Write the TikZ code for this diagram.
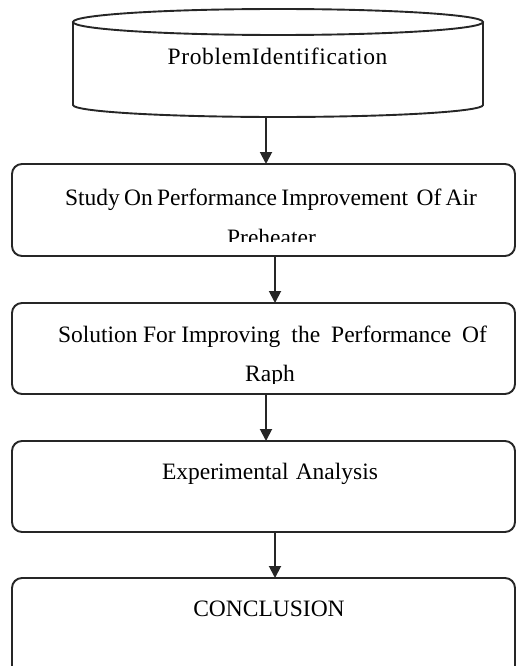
\documentclass[tikz,border=0pt]{standalone}
\usepackage{fontspec}
\setmainfont{Liberation Serif}
\usetikzlibrary{arrows.meta}
\begin{document}
\begin{tikzpicture}[x=1pt,y=-1pt,
  line/.style={line width=1.9pt, draw=black!85},
  procbox/.style={line, rounded corners=10pt, minimum width=503pt, inner sep=0pt, outer sep=0pt, anchor=north west},
  flowarrow/.style={line, -{Triangle[length=12pt,width=12pt]}},
  lbl/.style={anchor=base, inner sep=0pt, font=\fontsize{23.5pt}{28pt}\selectfont}]
\useasboundingbox (0,0) rectangle (517,666);

% cylinder (problem identification)
\node[minimum width=410pt, minimum height=95pt, inner sep=0pt, outer sep=0pt, anchor=north west] (cyl) at (73,22) {};
\draw[line] (cyl.north) ellipse [x radius=205pt, y radius=13pt];
\draw[line] (cyl.north west) -- ++(0,83) arc[start angle=180, end angle=360, x radius=205pt, y radius=12pt] -- (cyl.north east);

% process boxes
\node[procbox, minimum height=92pt] (b1) at (12,164) {};
\node[procbox, minimum height=91pt] (b2) at (12,303) {};
\node[procbox, minimum height=91pt] (b3) at (12,441) {};
\node[procbox, minimum height=100pt] (b4) at (12,578) {};

% arrows
\coordinate (axl) at (266,0);
\coordinate (axr) at (275,0);
\draw[flowarrow] (cyl.south -| axl) -- (b1.north -| axl);
\draw[flowarrow] (b1.south -| axr) -- (b2.north -| axr);
\draw[flowarrow] (b2.south -| axl) -- (b3.north -| axl);
\draw[flowarrow] (b3.south -| axr) -- (b4.north -| axr);

% texts
\node[lbl] (tp) at (277.5,65) {\addfontfeature{LetterSpace=2.9}ProblemIdentification};
\node[lbl] (t1a) at (271,205) {\makebox[412pt][s]{Study On Performance Improvement\ \ Of Air}};
\begin{scope}
  \clip (0,0) rectangle (517,241);
  \node[lbl] (t1b) at (271.5,245) {Preheater};
\end{scope}
\node[lbl] (t2a) at (272.5,342) {\makebox[429pt][s]{Solution For Improving\ \ the\ \ Performance\ \ Of}};
\begin{scope}
  \clip (0,0) rectangle (517,383);
  \node[lbl] (t2b) at (270,381) {Raph};
\end{scope}
\node[lbl] (t3) at (270,479) {\makebox[216pt][s]{Experimental Analysis}};
\node[lbl] (t4) at (269,616) {CONCLUSION};
\end{tikzpicture}
\end{document}
